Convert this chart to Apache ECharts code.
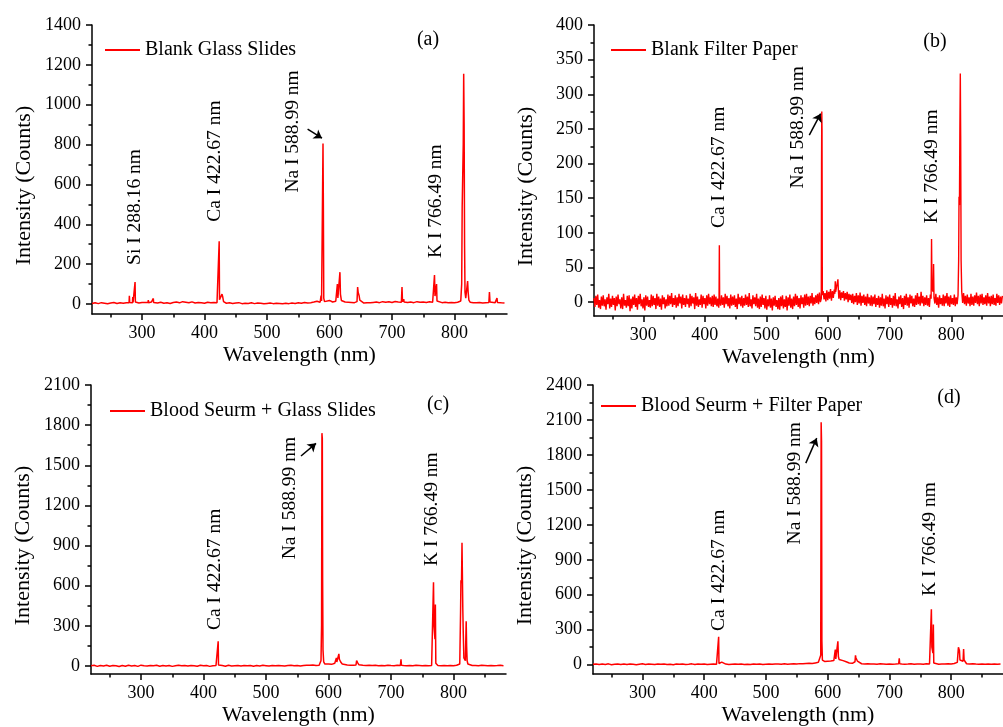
<!DOCTYPE html>
<html><head><meta charset="utf-8">
<script src="https://cdn.jsdelivr.net/npm/echarts@6/dist/echarts.min.js"></script>
<style>html,body{margin:0;padding:0;background:#fff}#c{width:1003px;height:727px}</style>
</head><body><div id="c"></div>
<script>
// ---------- tick labels ----------
const xMajorTicks = [300, 400, 500, 600, 700, 800];
const xMinorTicks = [250, 350, 450, 550, 650, 750, 850];
const aYMajor = [0, 200, 400, 600, 800, 1000, 1200, 1400];
const aYMinor = [100, 300, 500, 700, 900, 1100, 1300];
const bYMajor = [0, 50, 100, 150, 200, 250, 300, 350, 400];
const bYMinor = [25, 75, 125, 175, 225, 275, 325, 375];
const cYMajor = [0, 300, 600, 900, 1200, 1500, 1800, 2100];
const cYMinor = [150, 450, 750, 1050, 1350, 1650, 1950];
const dYMajor = [0, 300, 600, 900, 1200, 1500, 1800, 2100, 2400];
const dYMinor = [150, 450, 750, 1050, 1350, 1650, 1950, 2250];

// ---------- series names ----------
const seriesNames = ['Blank Glass Slides', 'Blank Filter Paper', 'Blood Seurm + Glass Slides', 'Blood Seurm + Filter Paper'];

// ---------- baseline sampling wavelengths (nm) ----------
const baseWl5 = [220,225,230,235,240,245,250,255,260,265,
270,275,280,285,290,295,300,305,310,315,
320,325,330,335,340,345,350,355,360,365,
370,375,380,385,390,395,400,405,410,415,
420,425,430,435,440,445,450,455,460,465,
470,475,480,485,490,495,500,505,510,515,
520,525,530,535,540,545,550,555,560,565,
570,575,580,585,590,595,600,605,610,615,
620,625,630,635,640,645,650,655,660,665,
670,675,680,685,690,695,700,705,710,715,
720,725,730,735,740,745,750,755,760,765,
770,775,780,785,790,795,800,805,810,815,
820,825,830,835,840,845,850,855,860,865,
870,875,880];
const baseWl15 = [220,221.5,223,224.5,226,227.5,229,230.5,232,233.5,
235,236.5,238,239.5,241,242.5,244,245.5,247,248.5,
250,251.5,253,254.5,256,257.5,259,260.5,262,263.5,
265,266.5,268,269.5,271,272.5,274,275.5,277,278.5,
280,281.5,283,284.5,286,287.5,289,290.5,292,293.5,
295,296.5,298,299.5,301,302.5,304,305.5,307,308.5,
310,311.5,313,314.5,316,317.5,319,320.5,322,323.5,
325,326.5,328,329.5,331,332.5,334,335.5,337,338.5,
340,341.5,343,344.5,346,347.5,349,350.5,352,353.5,
355,356.5,358,359.5,361,362.5,364,365.5,367,368.5,
370,371.5,373,374.5,376,377.5,379,380.5,382,383.5,
385,386.5,388,389.5,391,392.5,394,395.5,397,398.5,
400,401.5,403,404.5,406,407.5,409,410.5,412,413.5,
415,416.5,418,419.5,421,422.5,424,425.5,427,428.5,
430,431.5,433,434.5,436,437.5,439,440.5,442,443.5,
445,446.5,448,449.5,451,452.5,454,455.5,457,458.5,
460,461.5,463,464.5,466,467.5,469,470.5,472,473.5,
475,476.5,478,479.5,481,482.5,484,485.5,487,488.5,
490,491.5,493,494.5,496,497.5,499,500.5,502,503.5,
505,506.5,508,509.5,511,512.5,514,515.5,517,518.5,
520,521.5,523,524.5,526,527.5,529,530.5,532,533.5,
535,536.5,538,539.5,541,542.5,544,545.5,547,548.5,
550,551.5,553,554.5,556,557.5,559,560.5,562,563.5,
565,566.5,568,569.5,571,572.5,574,575.5,577,578.5,
580,581.5,583,584.5,586,587.5,589,590.5,592,593.5,
595,596.5,598,599.5,601,602.5,604,605.5,607,608.5,
610,611.5,613,614.5,616,617.5,619,620.5,622,623.5,
625,626.5,628,629.5,631,632.5,634,635.5,637,638.5,
640,641.5,643,644.5,646,647.5,649,650.5,652,653.5,
655,656.5,658,659.5,661,662.5,664,665.5,667,668.5,
670,671.5,673,674.5,676,677.5,679,680.5,682,683.5,
685,686.5,688,689.5,691,692.5,694,695.5,697,698.5,
700,701.5,703,704.5,706,707.5,709,710.5,712,713.5,
715,716.5,718,719.5,721,722.5,724,725.5,727,728.5,
730,731.5,733,734.5,736,737.5,739,740.5,742,743.5,
745,746.5,748,749.5,751,752.5,754,755.5,757,758.5,
760,761.5,763,764.5,766,767.5,769,770.5,772,773.5,
775,776.5,778,779.5,781,782.5,784,785.5,787,788.5,
790,791.5,793,794.5,796,797.5,799,800.5,802,803.5,
805,806.5,808,809.5,811,812.5,814,815.5,817,818.5,
820,821.5,823,824.5,826,827.5,829,830.5,832,833.5,
835,836.5,838,839.5,841,842.5,844,845.5,847,848.5,
850,851.5,853,854.5,856,857.5,859,860.5,862,863.5,
865,866.5,868,869.5,871,872.5,874,875.5,877,878.5,
880,881.5,883];

// ---------- (a) Blank Glass Slides ----------
const aBase = [3,6,2,7,4,1,5,8,3,6,
4,7,6,6,9,5,8,8,10,10,
7,5,9,4,6,3,8,10,6,12,
9,6,11,5,8,7,4,9,6,8,
7,5,9,4,6,3,5,7,2,4,
3,6,2,5,4,1,3,5,2,4,
3,1,4,2,5,3,6,4,8,5,
7,10,14,9,16,12,18,10,14,12,
12,10,9,8,7,6,8,5,7,6,
8,10,7,12,9,11,8,13,10,9,
11,8,10,7,12,9,10,8,11,9,
8,10,7,9,6,8,7,9,10,12,
14,9,7,6,8,5,7,6,9,7,
8,6,5];
const aPeaks = [
  [[279.3,6],[279.8,42],[280.3,8]],
  [[284.7,6],[285.2,35],[285.7,8]],
  [[288.4,8],[288.9,110],[289.4,10]],
  [[309.6,8],[310.1,20],[310.6,6]],
  [[317.6,6],[318.1,28],[318.6,8]],
  [[423,8],[423.5,315],[424,22],[426,12],[428,50],[429,38],[430.5,12]],
  [[585.8,10],[586.5,42],[587.3,15],[588.9,25],[589.6,805],[590.2,480],[590.8,30],[592,12]],
  [[611.5,15],[612.6,100],[613.4,30],[615,22],[616.7,160],[617.5,50],[619,18]],
  [[644,12],[645,85],[645.8,60],[646.5,65],[647.5,40],[648.5,20],[650,10]],
  [[715.3,10],[716,85],[716.8,12],[718.3,10],[718.8,25],[719.3,10]],
  [[767.3,10],[768,145],[768.8,40],[770.5,30],[771.3,100],[772,15]],
  [[810,15],[811.5,100],[812.3,490],[813,480],[814,800],[814.7,1155],[815.4,900],[816.1,300],[816.8,60],[818,30],[820.3,40],[821,115],[821.8,60],[823,20]],
  [[855,8],[855.9,60],[856.8,10]],
  [[867.3,8],[868,30],[868.7,8]]
];

// ---------- (b) Blank Filter Paper ----------
const bBase = [6,-7,9,-4,11,-8,3,-10,8,-5,
10,-6,4,-11,7,-3,12,-9,5,-7,
9,-4,6,-12,8,-6,11,-3,4,-9,
7,-10,12,-5,3,-8,9,-6,10,-13,
5,-9,8,-4,11,-7,6,-11,9,-3,
12,-6,4,-9,7,-12,10,-5,8,-7,
3,-8,11,-6,9,-4,6,-10,12,-5,
8,-7,5,-11,10,-3,7,-9,4,-6,
11,-5,9,-3,13,-7,6,-4,10,-8,
7,-6,12,-2,8,-9,11,-4,6,-7,
10,-3,5,-8,12,-6,9,-2,7,-10,
13,-5,8,-7,4,-4,11,-8,9,-3,
6,-9,10,-5,12,-3,7,-6,9,-7,
11,-4,8,-6,5,-8,13,-5,10,-4,
7,-8,12,-3,9,-6,6,-9,11,-5,
8,-4,10,-7,5,-10,12,-3,7,-6,
9,-8,6,-5,11,-4,8,-7,13,-6,
4,-9,10,-3,7,-6,12,-8,5,-10,
8,-7,11,-4,6,-9,9,-11,4,-6,
10,-8,5,-12,7,-5,9,-7,3,-10,
6,-11,8,-6,10,-9,4,-7,9,-12,
7,-5,11,-8,5,-10,8,-6,12,-4,
9,-7,6,-9,10,-3,7,-8,11,-5,
12,-4,8,-6,9,-2,13,-5,7,-3,
10,-1,12,-3,14,0,11,2,16,4,
13,1,17,3,15,5,19,2,16,6,
18,4,15,7,20,5,17,3,14,6,
16,2,13,4,15,0,12,3,11,-1,
12,-3,9,0,13,-4,10,-2,14,-5,
9,-1,11,-4,8,-6,12,-2,7,-5,
10,-6,8,-3,11,-7,6,-4,9,-8,
7,-5,12,-6,5,-9,10,-3,8,-7,
11,-4,6,-8,9,-5,13,-6,4,-9,
8,-3,10,-7,6,-10,9,-4,12,-5,
7,-8,11,-2,9,-6,5,-7,10,-4,
13,-3,8,-5,15,-2,9,-6,7,-4,
10,-5,6,-7,11,-3,8,-6,9,-2,
12,-4,7,-8,10,-3,6,-5,11,-6,
9,-2,13,-5,8,-7,10,-3,6,-4,
11,-6,7,-3,9,-2,12,-5,8,-1,
13,-3,9,-5,11,-2,7,-6,12,-4,
8,-5,10,-1,14,-3,9,-6,11,-2,
12,-4,7,-3,10,-5,13,-2,8,-6,
9,-3,11,-4,6,-5,12,-1,10,-4,
8,-2,9];
const bPeaks = [
  [[423,3],[423.5,82],[424,4]],
  [[589,5],[589.4,200],[589.8,275],[590.2,250],[590.7,10]],
  [[611,12],[611.7,30],[612.3,15],[615.2,15],[616,33],[616.7,18]],
  [[767.3,5],[768,91],[768.7,20],[770.6,15],[771.3,55],[772,6]],
  [[811,10],[812,60],[812.6,152],[813.3,140],[814,250],[814.7,330],[815.3,240],[816,60],[817,15]]
];

// ---------- (c) Blood Serum + Glass Slides ----------
const cBase = [2,5,-3,4,0,6,-2,3,1,-4,
4,-2,5,0,3,-3,6,1,-1,4,
2,5,-2,3,0,4,-3,2,5,1,
3,-1,4,2,-2,5,1,3,-3,2,
4,1,3,-2,5,0,2,4,-1,3,
1,4,-2,3,0,5,2,-1,3,1,
4,2,-1,3,5,1,4,0,3,6,
5,8,4,6,12,25,15,12,20,25,
20,12,8,6,5,10,10,6,4,5,
3,5,2,4,1,6,3,2,5,4,
3,1,4,2,5,3,1,4,2,3,
5,3,2,4,1,3,2,5,10,20,
15,6,3,4,2,5,3,1,4,2,
3,5,2];
const cPeaks = [
  [[423,5],[423.5,185],[424,8]],
  [[586.5,10],[588,40],[588.9,300],[589.5,1740],[590.1,1700],[590.6,650],[591.2,120],[592.3,30],[594,15]],
  [[611.8,20],[612.6,60],[613.3,30],[615.5,35],[616.6,90],[617.4,50],[619.5,30],[622,15]],
  [[644,8],[645,40],[646.5,25],[648.5,10]],
  [[715.3,5],[716,50],[716.7,5]],
  [[767.3,10],[768,625],[768.8,300],[770.3,200],[771,460],[771.7,20]],
  [[810,15],[811.3,400],[811.9,640],[812.8,620],[813.6,920],[814.2,925],[814.9,420],[815.6,250],[816.6,60],[819,40],[820.3,335],[821,150],[821.8,40],[823,15]]
];

// ---------- (d) Blood Serum + Filter Paper ----------
const dBase = [3,6,1,5,2,7,0,4,6,2,
5,1,6,3,0,4,7,2,5,3,
1,5,3,6,2,4,0,5,3,6,
2,4,7,1,5,3,6,2,4,5,
3,6,2,5,1,4,6,3,5,2,
4,1,5,3,6,2,4,5,3,6,
5,3,7,4,6,8,5,9,7,10,
12,10,15,20,25,28,30,32,35,38,
40,35,25,15,12,20,10,8,6,7,
5,6,4,7,5,3,6,4,5,8,
6,4,5,7,3,5,6,4,8,6,
5,7,4,6,5,8,6,10,20,15,
12,8,6,7,5,4,6,3,5,4,
6,3,5];
const dPeaks = [
  [[423,5],[423.5,240],[424,10],[426.5,8],[428.5,22],[430.5,8]],
  [[587.8,30],[588.8,80],[589.5,2080],[590.1,1920],[590.7,200],[591.5,40]],
  [[611.5,40],[612.4,130],[613.2,50],[615.5,60],[616.6,200],[617.4,70],[618.5,45]],
  [[644.3,25],[645.1,80],[645.8,60],[646.8,45],[648.3,30],[649.5,15]],
  [[715.3,8],[716,55],[716.7,8]],
  [[767.3,10],[768,475],[768.8,150],[770.5,100],[771.2,345],[771.9,15]],
  [[810.5,20],[811.8,150],[812.6,140],[813.5,120],[814.3,40],[819.3,30],[820.2,135],[821,40]]
];

// ---------- annotations (data coordinates) ----------
const lineLabels = [
  [{x:289.3, y:196, t:'Si I 288.16 nm'}, {x:416.3, y:413, t:'Ca I 422.67 nm'}, {x:541, y:559, t:'Na I 588.99 nm'}, {x:769.5, y:231, t:'K I 766.49 nm'}],
  [{x:422.8, y:107, t:'Ca I 422.67 nm'}, {x:551.4, y:164, t:'Na I 588.99 nm'}, {x:768.6, y:114, t:'K I 766.49 nm'}],
  [{x:417.4, y:269, t:'Ca I 422.67 nm'}, {x:537.4, y:797, t:'Na I 588.99 nm'}, {x:765.9, y:747, t:'K I 766.49 nm'}],
  [{x:423.3, y:290, t:'Ca I 422.67 nm'}, {x:547.7, y:1032, t:'Na I 588.99 nm'}, {x:766.3, y:590, t:'K I 766.49 nm'}]
];
const arrows = [
  [[565, 878], [588, 832]],
  [[569.5, 241], [588, 272]],
  [[556, 1569], [580, 1664]],
  [[564.6, 1730], [582.3, 1944]]
];
const panelTags = ['(a)', '(b)', '(c)', '(d)'];

// ---------- build ----------
function zip(wl, v) { const n = Math.min(wl.length, v.length); const o = []; for (let i = 0; i < n; i++) o.push([wl[i], v[i]]); return o; }
function merge(base, peaks) {
  let pts = base.filter(p => !peaks.some(g => p[0] >= g[0][0] && p[0] <= g[g.length - 1][0]));
  peaks.forEach(g => { pts = pts.concat(g); });
  pts.sort((a, b) => a[0] - b[0]);
  return pts;
}
const seriesData = [
  merge(zip(baseWl5, aBase), aPeaks),
  merge(zip(baseWl15, bBase), bPeaks),
  merge(zip(baseWl5, cBase), cPeaks),
  merge(zip(baseWl5, dBase), dPeaks)
];
const yMaj = [aYMajor, bYMajor, cYMajor, dYMajor];
const yMin = [aYMinor, bYMinor, cYMinor, dYMinor];
const yRange = [[-50, 1400], [-20, 400], [-60, 2100], [-80, 2400]];

const FONT = 'Liberation Serif';
const BLACK = '#000';
const RED = '#ff0000';
const lineWidths = [1.5, 1.4, 1.5, 1.5];
const grids = [
  {left: 92, top: 25, right: 496, bottom: 413},
  {left: 594, top: 25, right: -6, bottom: 411},
  {left: 91, top: 385, right: 497, bottom: 53},
  {left: 593, top: 385, right: -5, bottom: 52}
];
const legendPos = [{left: 105, top: 40}, {left: 611, top: 40}, {left: 110, top: 401}, {left: 601, top: 396}];
const tagPos = [[428, 40], [935, 42], [438, 405], [949, 398]];
const plain = v => String(v);

const xAxis = [], yAxis = [], series = [], legend = [];
for (let i = 0; i < 4; i++) {
  xAxis.push({
    type: 'value', gridIndex: i, min: 220, max: 884, position: 'bottom',
    name: 'Wavelength (nm)', nameLocation: 'middle', nameGap: 30,
    nameTextStyle: {fontFamily: FONT, fontSize: 22, color: BLACK},
    axisLine: {onZero: false, lineStyle: {color: BLACK, width: 1.5}},
    axisTick: {customValues: xMajorTicks, length: 6, lineStyle: {color: BLACK, width: 1.5}},
    axisLabel: {customValues: xMajorTicks, formatter: plain, margin: 10, fontFamily: FONT, fontSize: 18, color: BLACK},
    splitLine: {show: false}
  });
  xAxis.push({
    type: 'value', gridIndex: i, min: 220, max: 884, position: 'bottom',
    axisLine: {show: false, onZero: false},
    axisTick: {customValues: xMinorTicks, length: 3.5, lineStyle: {color: BLACK, width: 1.5}},
    axisLabel: {show: false}, splitLine: {show: false}
  });
  yAxis.push({
    type: 'value', gridIndex: i, min: yRange[i][0], max: yRange[i][1], position: 'left',
    name: 'Intensity (Counts)', nameLocation: 'middle', nameGap: 57,
    nameTextStyle: {fontFamily: FONT, fontSize: 22, color: BLACK, padding: [0, 32, 0, 0]},
    axisLine: {show: true, onZero: false, lineStyle: {color: BLACK, width: 1.5}},
    axisTick: {show: true, customValues: yMaj[i], length: 6, lineStyle: {color: BLACK, width: 1.5}},
    axisLabel: {customValues: yMaj[i], formatter: plain, margin: 11, fontFamily: FONT, fontSize: 18, color: BLACK},
    splitLine: {show: false}
  });
  yAxis.push({
    type: 'value', gridIndex: i, min: yRange[i][0], max: yRange[i][1], position: 'left',
    axisLine: {show: false, onZero: false},
    axisTick: {show: true, customValues: yMin[i], length: 3.5, lineStyle: {color: BLACK, width: 1.5}},
    axisLabel: {show: false}, splitLine: {show: false}
  });
  series.push({
    name: seriesNames[i], type: 'line', xAxisIndex: 2 * i, yAxisIndex: 2 * i,
    data: seriesData[i], showSymbol: false, symbol: 'none', smooth: false,
    lineStyle: {color: RED, width: lineWidths[i]}, itemStyle: {color: RED},
    markLine: {
      silent: true, symbol: ['none', 'arrow'], symbolSize: 8,
      lineStyle: {color: BLACK, width: 1.5, type: 'solid'}, label: {show: false},
      data: [[{coord: arrows[i][0]}, {coord: arrows[i][1]}]]
    }
  });
  legend.push({
    data: [seriesNames[i]], left: legendPos[i].left, top: legendPos[i].top, padding: 0,
    icon: 'rect', itemWidth: 35, itemHeight: 2, selectedMode: false,
    textStyle: {fontFamily: FONT, fontSize: 20, color: BLACK}
  });
}

const chart = echarts.init(document.getElementById('c'), null, {renderer: 'canvas'});
chart.setOption({animation: false, backgroundColor: '#fff', grid: grids, xAxis, yAxis, series, legend});

const graphic = [];
for (let i = 0; i < 4; i++) {
  lineLabels[i].forEach(l => {
    const p = chart.convertToPixel({xAxisIndex: 2 * i, yAxisIndex: 2 * i}, [l.x, l.y]);
    graphic.push({type: 'text', x: p[0], y: p[1], rotation: Math.PI / 2,
      style: {text: l.t, fontFamily: FONT, fontSize: 19.5, fill: BLACK, align: 'left', verticalAlign: 'middle'}});
  });
  graphic.push({type: 'text', x: tagPos[i][0], y: tagPos[i][1],
    style: {text: panelTags[i], fontFamily: FONT, fontSize: 20, fill: BLACK, align: 'center', verticalAlign: 'middle'}});
}
chart.setOption({graphic});
</script>
</body></html>
